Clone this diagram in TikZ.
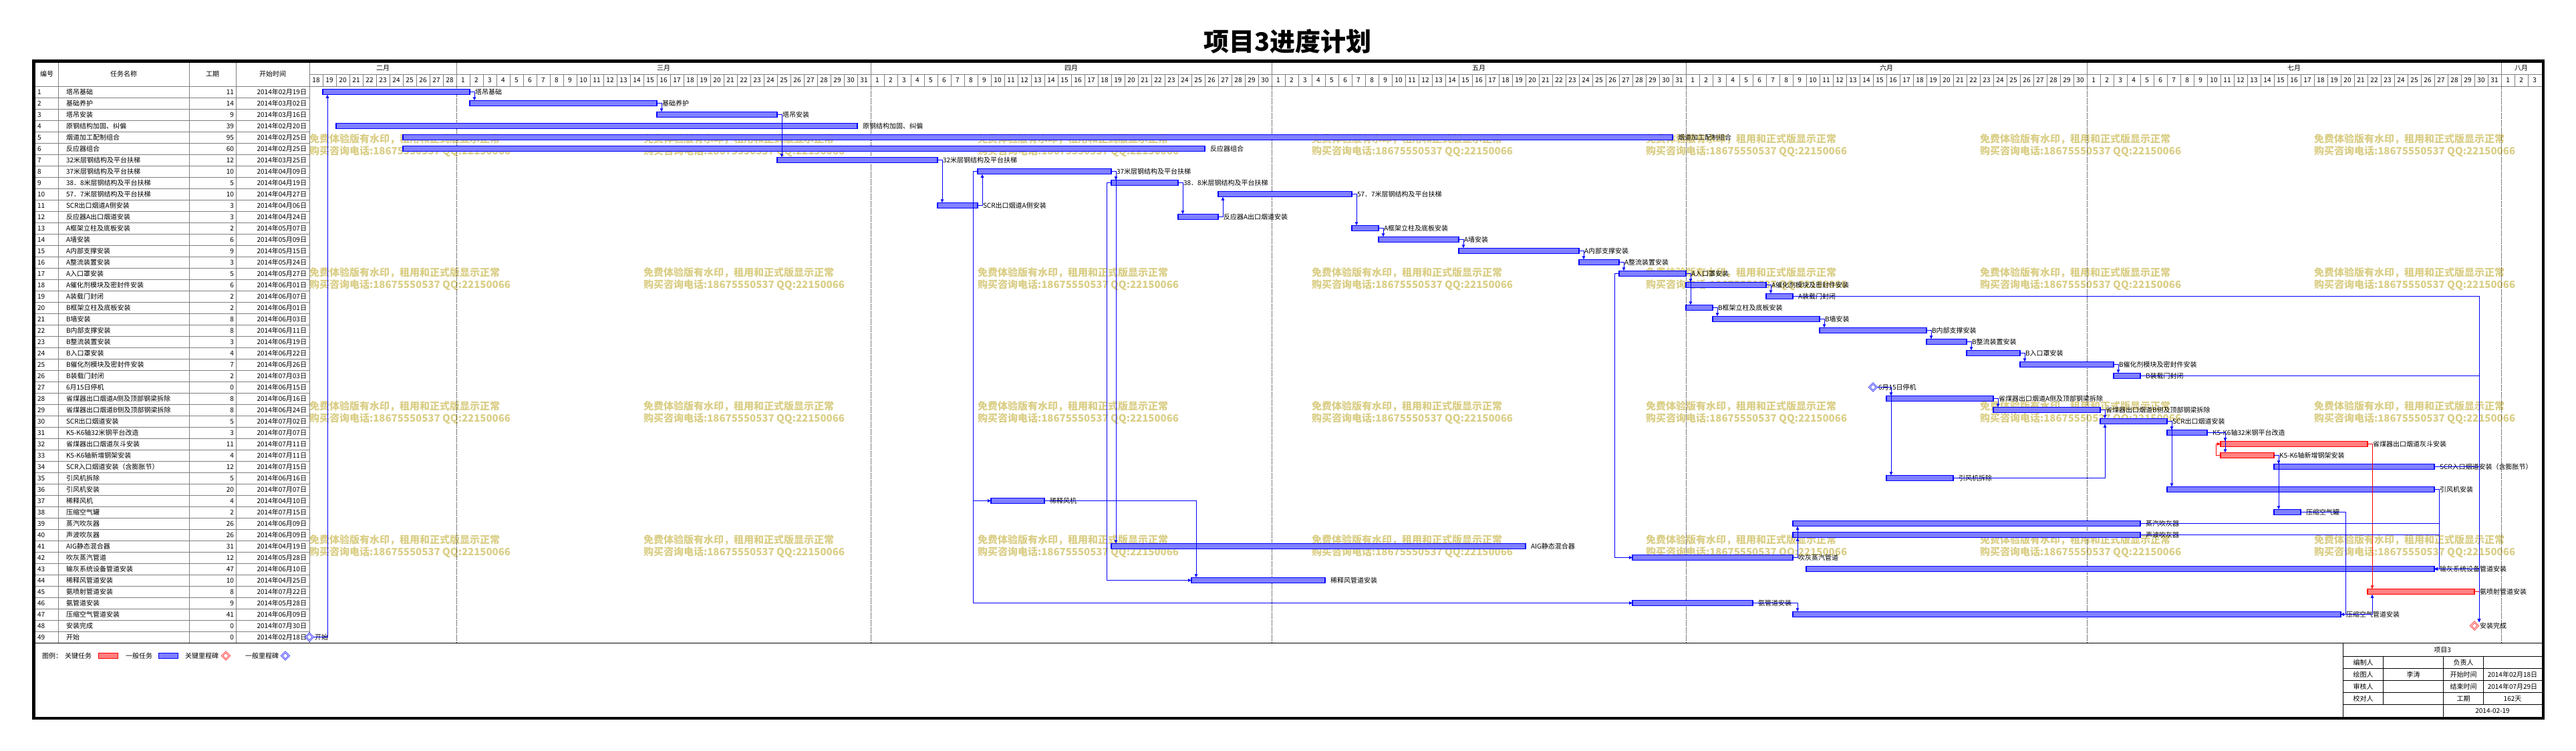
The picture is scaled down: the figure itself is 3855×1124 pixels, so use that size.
\documentclass[tikz,border=0pt]{standalone}
\usepackage{fontspec}
\setmainfont{Noto Sans CJK SC}
\usetikzlibrary{arrows.meta,shapes.geometric}
\definecolor{barblue}{RGB}{128,128,255}
\definecolor{barred}{RGB}{255,128,128}
\definecolor{gridgray}{RGB}{128,128,128}
\definecolor{wmcol}{RGB}{218,206,134}
\newcommand\ften{\fontsize{10}{12}\selectfont}
\newcommand\tk[5]{%
 \pgfmathsetmacro\tky{137.5+17*(#1-1)}%
 \pgfmathsetmacro\tkx{463+20*#2}%
 \pgfmathsetmacro\tkw{20*#3}%
 \node[#5, minimum width=\tkw pt, anchor=west] (b#1) at (\tkx,\tky) {};
 \node[lbl, anchor=west] (l#1) at ([xshift=8pt]b#1.east) {#4};
}
\newcommand\msn[4]{%
 \pgfmathsetmacro\tky{137.5+17*(#1-1)}%
 \pgfmathsetmacro\tkx{463+20*#2}%
 \node[#4] (m#1) at (\tkx,\tky) {};
 \node[lbl, anchor=west] (l#1) at (\tkx+8,\tky) {#3};
}
\newcommand\trow[4]{%
 \pgfmathsetmacro\tky{137.5+17*(#1-1)}%
 \node[tt, anchor=west] (tn#1) at (56,\tky) {#1};
 \node[tt, anchor=west] (tm#1) at (99,\tky) {#2};
 \node[tt, anchor=east] (td#1) at (350,\tky) {#3};
 \node[tt, anchor=east] (ts#1) at (459,\tky) {#4};
}
\tikzset{
 tt/.style={font=\ften, inner sep=0pt, outer sep=0pt},
 lbl/.style={font=\ften, inner sep=0pt, outer sep=0pt},
 gbar/.style={rectangle, draw=blue, line width=1.2pt, fill=barblue, minimum height=8.5pt, inner sep=0pt, outer sep=0pt},
 cbar/.style={rectangle, draw=red, line width=1.2pt, fill=barred, minimum height=8.5pt, inner sep=0pt, outer sep=0pt},
 msb/.style={diamond, draw=blue, fill=white, line width=0.7pt, double=white, double distance=1pt, minimum width=11pt, minimum height=11pt, inner sep=0pt, outer sep=0pt},
 msr/.style={diamond, draw=red, fill=white, line width=0.7pt, double=white, double distance=1pt, minimum width=11pt, minimum height=11pt, inner sep=0pt, outer sep=0pt},
 lnk/.style={draw=blue, line width=0.9pt, -{Triangle[length=5pt,width=4.5pt]}},
 clnk/.style={draw=red, line width=0.9pt, -{Triangle[length=5pt,width=4.5pt]}},
 plain/.style={draw=blue, line width=0.9pt},
 gridl/.style={draw=gridgray, line width=1pt},
 dotl/.style={draw=black, line width=0.9pt, dash pattern=on 1pt off 1.2pt},
 wm/.style={font=\fontsize{15}{17}\selectfont\bfseries, text=wmcol, inner sep=0pt, outer sep=0pt},
 blk/.style={draw=black, line width=1.2pt},
}
\begin{document}
\begin{tikzpicture}[x=1pt,y=-1pt]
\useasboundingbox (0,0) rectangle (3855,1124);
\fill[white] (0,0) rectangle (3855,1124);

% title
\node[font=\fontsize{38}{40}\selectfont\bfseries, inner sep=0pt] (title) at (1927,62) {项目3进度计划};

% watermark
\foreach \i in {0,...,6}{
 \foreach \j in {0,...,3}{
  \node[wm, anchor=west] (wa\i\j) at (463+500*\i, 208+200*\j) {免费体验版有水印，租用和正式版显示正常};
  \node[wm, anchor=west] (wb\i\j) at (463+500*\i, 226.7+200*\j) {购买咨询电话:18675550537 QQ:22150066};
 }
}

% table grid
\foreach \k in {1,...,48} \draw[gridl] (53,129+17*\k) -- (463,129+17*\k);
\draw[gridl] (53,129) -- (3803.5,129);
\draw[gridl] (463,111) -- (3803.5,111);
\foreach \x in {87,283,353,463} \draw[gridl] (\x,93) -- (\x,962.5);
\foreach \k in {1,...,166} \draw[gridl] (463+20*\k,111) -- (463+20*\k,129);
\foreach \x in {683,1303,1903,2523,3123,3743}{
 \draw[gridl] (\x,93) -- (\x,111);
 \draw[dotl] (\x,129) -- (\x,962.5);
}

% header texts
\node[tt] (h1) at (70,111) {编号};
\node[tt] (h2) at (185,111) {任务名称};
\node[tt] (h3) at (318,111) {工期};
\node[tt] (h4) at (408,111) {开始时间};
\node[tt] (mo2) at (573,102) {二月};
\node[tt] (mo3) at (993,102) {三月};
\node[tt] (mo4) at (1603,102) {四月};
\node[tt] (mo5) at (2213,102) {五月};
\node[tt] (mo6) at (2823,102) {六月};
\node[tt] (mo7) at (3433,102) {七月};
\node[tt] (mo8) at (3773,102) {八月};
\foreach \s/\a/\b in {0/18/28, 11/1/31, 42/1/30, 72/1/31, 103/1/30, 133/1/31, 164/1/3}{
 \foreach \dd in {\a,...,\b}{
  \pgfmathsetmacro\xx{463+20*(\s+\dd-\a)+10}
  \node[tt] (dy\s-\dd) at (\xx,120) {\dd};
 }
}

% table rows
\trow{1}{塔吊基础}{11}{2014年02月19日}
\trow{2}{基础养护}{14}{2014年03月02日}
\trow{3}{塔吊安装}{9}{2014年03月16日}
\trow{4}{原钢结构加固、纠偏}{39}{2014年02月20日}
\trow{5}{烟道加工配制组合}{95}{2014年02月25日}
\trow{6}{反应器组合}{60}{2014年02月25日}
\trow{7}{32米层钢结构及平台扶梯}{12}{2014年03月25日}
\trow{8}{37米层钢结构及平台扶梯}{10}{2014年04月09日}
\trow{9}{38．8米层钢结构及平台扶梯}{5}{2014年04月19日}
\trow{10}{57．7米层钢结构及平台扶梯}{10}{2014年04月27日}
\trow{11}{SCR出口烟道A侧安装}{3}{2014年04月06日}
\trow{12}{反应器A出口烟道安装}{3}{2014年04月24日}
\trow{13}{A框架立柱及底板安装}{2}{2014年05月07日}
\trow{14}{A墙安装}{6}{2014年05月09日}
\trow{15}{A内部支撑安装}{9}{2014年05月15日}
\trow{16}{A整流装置安装}{3}{2014年05月24日}
\trow{17}{A入口罩安装}{5}{2014年05月27日}
\trow{18}{A催化剂模块及密封件安装}{6}{2014年06月01日}
\trow{19}{A装载门封闭}{2}{2014年06月07日}
\trow{20}{B框架立柱及底板安装}{2}{2014年06月01日}
\trow{21}{B墙安装}{8}{2014年06月03日}
\trow{22}{B内部支撑安装}{8}{2014年06月11日}
\trow{23}{B整流装置安装}{3}{2014年06月19日}
\trow{24}{B入口罩安装}{4}{2014年06月22日}
\trow{25}{B催化剂模块及密封件安装}{7}{2014年06月26日}
\trow{26}{B装载门封闭}{2}{2014年07月03日}
\trow{27}{6月15日停机}{0}{2014年06月15日}
\trow{28}{省煤器出口烟道A侧及顶部钢梁拆除}{8}{2014年06月16日}
\trow{29}{省煤器出口烟道B侧及顶部钢梁拆除}{8}{2014年06月24日}
\trow{30}{SCR出口烟道安装}{5}{2014年07月02日}
\trow{31}{K5-K6轴32米钢平台改造}{3}{2014年07月07日}
\trow{32}{省煤器出口烟道灰斗安装}{11}{2014年07月11日}
\trow{33}{K5-K6轴新增钢架安装}{4}{2014年07月11日}
\trow{34}{SCR入口烟道安装（含膨胀节）}{12}{2014年07月15日}
\trow{35}{引风机拆除}{5}{2014年06月16日}
\trow{36}{引风机安装}{20}{2014年07月07日}
\trow{37}{稀释风机}{4}{2014年04月10日}
\trow{38}{压缩空气罐}{2}{2014年07月15日}
\trow{39}{蒸汽吹灰器}{26}{2014年06月09日}
\trow{40}{声波吹灰器}{26}{2014年06月09日}
\trow{41}{AIG静态混合器}{31}{2014年04月19日}
\trow{42}{吹灰蒸汽管道}{12}{2014年05月28日}
\trow{43}{输灰系统设备管道安装}{47}{2014年06月10日}
\trow{44}{稀释风管道安装}{10}{2014年04月25日}
\trow{45}{氨喷射管道安装}{8}{2014年07月22日}
\trow{46}{氨管道安装}{9}{2014年05月28日}
\trow{47}{压缩空气管道安装}{41}{2014年06月09日}
\trow{48}{安装完成}{0}{2014年07月30日}
\trow{49}{开始}{0}{2014年02月18日}

% bars
\tk{1}{1}{11}{塔吊基础}{gbar}
\tk{2}{12}{14}{基础养护}{gbar}
\tk{3}{26}{9}{塔吊安装}{gbar}
\tk{4}{2}{39}{原钢结构加固、纠偏}{gbar}
\tk{5}{7}{95}{烟道加工配制组合}{gbar}
\tk{6}{7}{60}{反应器组合}{gbar}
\tk{7}{35}{12}{32米层钢结构及平台扶梯}{gbar}
\tk{8}{50}{10}{37米层钢结构及平台扶梯}{gbar}
\tk{9}{60}{5}{38．8米层钢结构及平台扶梯}{gbar}
\tk{10}{68}{10}{57．7米层钢结构及平台扶梯}{gbar}
\tk{11}{47}{3}{SCR出口烟道A侧安装}{gbar}
\tk{12}{65}{3}{反应器A出口烟道安装}{gbar}
\tk{13}{78}{2}{A框架立柱及底板安装}{gbar}
\tk{14}{80}{6}{A墙安装}{gbar}
\tk{15}{86}{9}{A内部支撑安装}{gbar}
\tk{16}{95}{3}{A整流装置安装}{gbar}
\tk{17}{98}{5}{A入口罩安装}{gbar}
\tk{18}{103}{6}{A催化剂模块及密封件安装}{gbar}
\tk{19}{109}{2}{A装载门封闭}{gbar}
\tk{20}{103}{2}{B框架立柱及底板安装}{gbar}
\tk{21}{105}{8}{B墙安装}{gbar}
\tk{22}{113}{8}{B内部支撑安装}{gbar}
\tk{23}{121}{3}{B整流装置安装}{gbar}
\tk{24}{124}{4}{B入口罩安装}{gbar}
\tk{25}{128}{7}{B催化剂模块及密封件安装}{gbar}
\tk{26}{135}{2}{B装载门封闭}{gbar}
\msn{27}{117}{6月15日停机}{msb}
\tk{28}{118}{8}{省煤器出口烟道A侧及顶部钢梁拆除}{gbar}
\tk{29}{126}{8}{省煤器出口烟道B侧及顶部钢梁拆除}{gbar}
\tk{30}{134}{5}{SCR出口烟道安装}{gbar}
\tk{31}{139}{3}{K5-K6轴32米钢平台改造}{gbar}
\tk{32}{143}{11}{省煤器出口烟道灰斗安装}{cbar}
\tk{33}{143}{4}{K5-K6轴新增钢架安装}{cbar}
\tk{34}{147}{12}{SCR入口烟道安装（含膨胀节）}{gbar}
\tk{35}{118}{5}{引风机拆除}{gbar}
\tk{36}{139}{20}{引风机安装}{gbar}
\tk{37}{51}{4}{稀释风机}{gbar}
\tk{38}{147}{2}{压缩空气罐}{gbar}
\tk{39}{111}{26}{蒸汽吹灰器}{gbar}
\tk{40}{111}{26}{声波吹灰器}{gbar}
\tk{41}{60}{31}{AIG静态混合器}{gbar}
\tk{42}{99}{12}{吹灰蒸汽管道}{gbar}
\tk{43}{112}{47}{输灰系统设备管道安装}{gbar}
\tk{44}{66}{10}{稀释风管道安装}{gbar}
\tk{45}{154}{8}{氨喷射管道安装}{cbar}
\tk{46}{99}{9}{氨管道安装}{gbar}
\tk{47}{111}{41}{压缩空气管道安装}{gbar}
\msn{48}{162}{安装完成}{msr}
\msn{49}{0}{开始}{msb}

% links (finish to start)
\draw[lnk] (m49.east) -| ([xshift=7pt]b1.south west);
\draw[lnk] (b1.east) -| ([xshift=7pt]b2.north west);
\draw[lnk] (b2.east) -| ([xshift=7pt]b3.north west);
\draw[lnk] (b3.east) -| ([xshift=7pt]b7.north west);
\draw[lnk] (b7.east) -| ([xshift=7pt]b11.north west);
\draw[lnk] (b11.east) -| ([xshift=7pt]b8.south west);
\draw[lnk] (b8.east) -| ([xshift=7pt]b9.north west);
\draw[lnk] (b8.east) -| ([xshift=7pt]b41.north west);
\draw[lnk] (b9.east) -| ([xshift=7pt]b12.north west);
\draw[lnk] (b12.east) -| ([xshift=7pt]b10.south west);
\draw[lnk] (b10.east) -| ([xshift=7pt]b13.north west);
\draw[lnk] (b13.east) -| ([xshift=7pt]b14.north west);
\draw[lnk] (b14.east) -| ([xshift=7pt]b15.north west);
\draw[lnk] (b15.east) -| ([xshift=7pt]b16.north west);
\draw[lnk] (b16.east) -| ([xshift=7pt]b17.north west);
\draw[lnk] (b17.east) -| ([xshift=7pt]b18.north west);
\draw[lnk] (b17.east) -| ([xshift=7pt]b20.north west);
\draw[lnk] (b18.east) -| ([xshift=7pt]b19.north west);
\draw[lnk] (b20.east) -| ([xshift=7pt]b21.north west);
\draw[lnk] (b21.east) -| ([xshift=7pt]b22.north west);
\draw[lnk] (b22.east) -| ([xshift=7pt]b23.north west);
\draw[lnk] (b23.east) -| ([xshift=7pt]b24.north west);
\draw[lnk] (b24.east) -| ([xshift=7pt]b25.north west);
\draw[lnk] (b25.east) -| ([xshift=7pt]b26.north west);
\draw[lnk] (m27.east) -| ([xshift=7pt]b28.north west);
\draw[lnk] (m27.east) -| ([xshift=7pt]b35.north west);
\draw[lnk] (b28.east) -| ([xshift=7pt]b29.north west);
\draw[lnk] (b29.east) -| ([xshift=7pt]b30.north west);
\draw[lnk] (b35.east) -| ([xshift=7pt]b30.south west);
\draw[lnk] (b30.east) -| ([xshift=7pt]b31.north west);
\draw[lnk] (b30.east) -| ([xshift=7pt]b36.north west);
\draw[lnk] (b31.east) -| ([xshift=7pt]b32.north west);
\draw[lnk] (b31.east) -| ([xshift=7pt]b33.north west);
\draw[lnk] (b33.east) -| ([xshift=7pt]b34.north west);
\draw[lnk] (b33.east) -| ([xshift=7pt]b38.north west);
\draw[lnk] (b37.east) -| ([xshift=7pt]b44.north west);
\draw[lnk] (b42.east) -| ([xshift=7pt]b40.south west);
\draw[lnk] (b42.east) -| ([xshift=7pt]b39.south west);
\draw[lnk] (b46.east) -| ([xshift=7pt]b47.north west);
\draw[lnk] (b47.east) -| ([xshift=7pt]b45.south west);
\draw[clnk] (b32.east) -| ([xshift=7pt]b45.north west);
% start to start
\draw[lnk] (b8.west) -- ++(-7,0) |- (b37.west);
\draw[lnk] (b8.west) -- ++(-7,0) |- (b46.west);
\draw[lnk] (b9.west) -- ++(-7,0) |- (b44.west);
\draw[lnk] (b17.west) -- ++(-7,0) |- (b42.west);
\draw[clnk] (b33.west) -- ++(-7,0) |- (b32.west);
% finish to finish
\draw[lnk] (b38.east) -| ([xshift=7pt]b47.east) -- (b47.east);
\draw[lnk] (b36.east) -| ([xshift=7pt]b43.east) -- (b43.east);
\draw[lnk] (b39.east) -| ([xshift=7pt]b43.east) -- (b43.east);
\draw[lnk] (b40.east) -| ([xshift=7pt]b43.east) -- (b43.east);
% to finish milestone
\draw[lnk] (b19.east) -| ([xshift=7pt]m48.north);
\draw[lnk] (b26.east) -| ([xshift=7pt]m48.north);
\draw[lnk] (b34.east) -| ([xshift=7pt]m48.north);
\draw[lnk] (b43.east) -| ([xshift=7pt]m48.north);
\draw[draw=red, line width=0.9pt] (b45.east) -- ([xshift=7pt]b45.east);

% bottom line
\draw[draw=black, line width=1.3pt] (52.5,962.7) -- (3803.7,962.7);

% legend
\node[tt, anchor=west] (lg0) at (63,981.5) {图例：};
\node[tt, anchor=west] (lg1) at (97,981.5) {关键任务};
\node[cbar, minimum width=29pt, anchor=west] (lgr) at (147.5,981.5) {};
\node[tt, anchor=west] (lg2) at (188,981.5) {一般任务};
\node[gbar, minimum width=29pt, anchor=west] (lgb) at (237.5,981.5) {};
\node[tt, anchor=west] (lg3) at (277,981.5) {关键里程碑};
\node[msr] (lgmr) at (338,981.5) {};
\node[tt, anchor=west] (lg4) at (367,981.5) {一般里程碑};
\node[msb] (lgmb) at (427,981.5) {};

% info table
\draw[blk] (3506.7,962.7) -- (3506.7,1072.5);
\foreach \yy in {982.7,1000.7,1018.7,1036.7,1054.7} \draw[blk] (3506.7,\yy) -- (3803.7,\yy);
\draw[blk] (3566.7,982.7) -- (3566.7,1054.7);
\draw[blk] (3656.7,982.7) -- (3656.7,1072.5);
\draw[blk] (3716.7,982.7) -- (3716.7,1054.7);
\node[tt] (it0) at (3655,973) {项目3};
\node[tt] (it1) at (3536.7,991.7) {编制人};
\node[tt] (it2) at (3686.7,991.7) {负责人};
\node[tt] (it3) at (3536.7,1009.7) {绘图人};
\node[tt] (it4) at (3611.7,1009.7) {李涛};
\node[tt] (it5) at (3686.7,1009.7) {开始时间};
\node[tt] (it6) at (3760,1009.7) {2014年02月18日};
\node[tt] (it7) at (3536.7,1027.7) {审核人};
\node[tt] (it8) at (3686.7,1027.7) {结束时间};
\node[tt] (it9) at (3760,1027.7) {2014年07月29日};
\node[tt] (it10) at (3536.7,1045.7) {校对人};
\node[tt] (it11) at (3686.7,1045.7) {工期};
\node[tt] (it12) at (3760,1045.7) {162天};
\node[tt] (it13) at (3730,1063.6) {2014-02-19};

% outer frame
\draw[draw=black, line width=4.5pt] (50.3,91.3) rectangle (3806,1074.8);
\end{tikzpicture}
\end{document}
